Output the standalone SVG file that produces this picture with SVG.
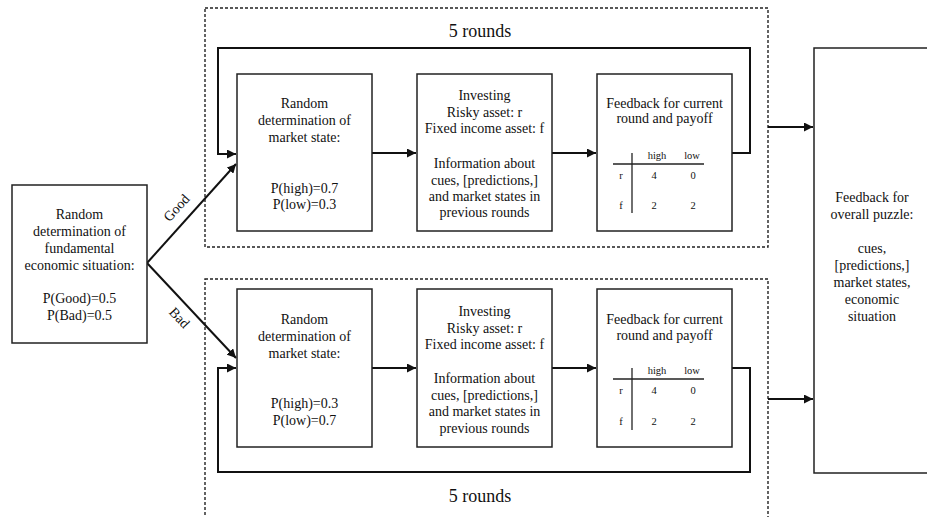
<svg xmlns="http://www.w3.org/2000/svg" width="927" height="517" viewBox="0 0 927 517">
<defs>
<style>
.t{font-family:"Liberation Serif","Times New Roman",serif;font-size:14px;fill:#111;text-anchor:middle}
.big{font-size:18px}
.sm{font-size:10.5px}
.box{fill:#fff;stroke:#222;stroke-width:1.5}
.dash{fill:none;stroke:#222;stroke-width:1.4;stroke-dasharray:3 2}
.c{fill:none;stroke:#111;stroke-width:2}
.tl{stroke:#222;stroke-width:1.3}
</style>
<marker id="ah" viewBox="0 0 10 10" refX="10" refY="5" markerWidth="4.5" markerHeight="4.5" orient="auto" markerUnits="strokeWidth">
<path d="M0,0 L10,5 L0,10 z" fill="#111"/>
</marker>
</defs>
<rect width="927" height="517" fill="#fff"/>
<g id="round-good">
<rect class="dash" x="205" y="8" width="563" height="239"/>
<text class="t big" x="480" y="37">5 rounds</text>
</g>
<g id="round-bad">
<rect class="dash" x="205" y="279" width="563" height="250"/>
<text class="t big" x="480" y="502">5 rounds</text>
</g>
<g id="connectors">
<line class="c" x1="147" y1="263" x2="236" y2="164" marker-end="url(#ah)"/>
<line class="c" x1="147" y1="263" x2="236" y2="358" marker-end="url(#ah)"/>
<path class="c" d="M732,153 H750 V48 H218 V154 H236" marker-end="url(#ah)"/>
<path class="c" d="M372,153 H416" marker-end="url(#ah)"/>
<path class="c" d="M552,153 H596" marker-end="url(#ah)"/>
<path class="c" d="M768,127 H813" marker-end="url(#ah)"/>
<path class="c" d="M732,368 H750 V472 H218 V368 H236" marker-end="url(#ah)"/>
<path class="c" d="M372,368 H416" marker-end="url(#ah)"/>
<path class="c" d="M552,368 H596" marker-end="url(#ah)"/>
<path class="c" d="M768,399 H813" marker-end="url(#ah)"/>
<text class="t" transform="translate(180,211) rotate(-48)">Good</text>
<text class="t" transform="translate(176,321) rotate(47)">Bad</text>
</g>
<g id="economic-situation">
<rect class="box" x="12" y="185" width="135" height="158"/>
<text class="t" x="79.5" y="219">Random</text>
<text class="t" x="79.5" y="236">determination of</text>
<text class="t" x="79.5" y="253">fundamental</text>
<text class="t" x="79.5" y="270">economic situation:</text>
<text class="t" x="79.5" y="303">P(Good)=0.5</text>
<text class="t" x="79.5" y="320">P(Bad)=0.5</text>
</g>
<g id="market-state-good">
<rect class="box" x="237" y="74" width="135" height="157"/>
<text class="t" x="304.5" y="108">Random</text>
<text class="t" x="304.5" y="125">determination of</text>
<text class="t" x="304.5" y="142">market state:</text>
<text class="t" x="304.5" y="193">P(high)=0.7</text>
<text class="t" x="304.5" y="209">P(low)=0.3</text>
</g>
<g id="investing-good">
<rect class="box" x="417" y="74" width="135" height="157"/>
<text class="t" x="484.5" y="100">Investing</text>
<text class="t" x="484.5" y="117">Risky asset: r</text>
<text class="t" x="484.5" y="133">Fixed income asset: f</text>
<text class="t" x="484.5" y="168">Information about</text>
<text class="t" x="484.5" y="185">cues, [predictions,]</text>
<text class="t" x="484.5" y="201">and market states in</text>
<text class="t" x="484.5" y="217">previous rounds</text>
</g>
<g id="feedback-good">
<rect class="box" x="597" y="74" width="135" height="157"/>
<text class="t" x="664.5" y="108">Feedback for current</text>
<text class="t" x="664.5" y="123">round and payoff</text>
<line class="tl" x1="613" y1="164" x2="704" y2="164"/>
<line class="tl" x1="632" y1="153" x2="632" y2="213"/>
<text class="t sm" x="657" y="159">high</text>
<text class="t sm" x="692" y="159">low</text>
<text class="t sm" x="621" y="179">r</text>
<text class="t sm" x="654" y="179">4</text>
<text class="t sm" x="693" y="179">0</text>
<text class="t sm" x="621" y="209">f</text>
<text class="t sm" x="654" y="209">2</text>
<text class="t sm" x="693" y="209">2</text>
</g>
<g id="market-state-bad">
<rect class="box" x="237" y="289" width="135" height="158"/>
<text class="t" x="304.5" y="324">Random</text>
<text class="t" x="304.5" y="341">determination of</text>
<text class="t" x="304.5" y="358">market state:</text>
<text class="t" x="304.5" y="408">P(high)=0.3</text>
<text class="t" x="304.5" y="425">P(low)=0.7</text>
</g>
<g id="investing-bad">
<rect class="box" x="417" y="289" width="135" height="158"/>
<text class="t" x="484.5" y="316">Investing</text>
<text class="t" x="484.5" y="333">Risky asset: r</text>
<text class="t" x="484.5" y="349">Fixed income asset: f</text>
<text class="t" x="484.5" y="383">Information about</text>
<text class="t" x="484.5" y="400">cues, [predictions,]</text>
<text class="t" x="484.5" y="416">and market states in</text>
<text class="t" x="484.5" y="433">previous rounds</text>
</g>
<g id="feedback-bad">
<rect class="box" x="597" y="289" width="135" height="158"/>
<text class="t" x="664.5" y="324">Feedback for current</text>
<text class="t" x="664.5" y="340">round and payoff</text>
<line class="tl" x1="613" y1="379" x2="704" y2="379"/>
<line class="tl" x1="632" y1="368" x2="632" y2="430"/>
<text class="t sm" x="657" y="374">high</text>
<text class="t sm" x="692" y="374">low</text>
<text class="t sm" x="621" y="394">r</text>
<text class="t sm" x="654" y="394">4</text>
<text class="t sm" x="693" y="394">0</text>
<text class="t sm" x="621" y="425">f</text>
<text class="t sm" x="654" y="425">2</text>
<text class="t sm" x="693" y="425">2</text>
</g>
<g id="overall-feedback">
<rect class="box" x="814" y="48" width="130" height="425"/>
<text class="t" x="872" y="202">Feedback for</text>
<text class="t" x="872" y="219">overall puzzle:</text>
<text class="t" x="872" y="253">cues,</text>
<text class="t" x="872" y="270">[predictions,]</text>
<text class="t" x="872" y="287">market states,</text>
<text class="t" x="872" y="304">economic</text>
<text class="t" x="872" y="321">situation</text>
</g>
</svg>
